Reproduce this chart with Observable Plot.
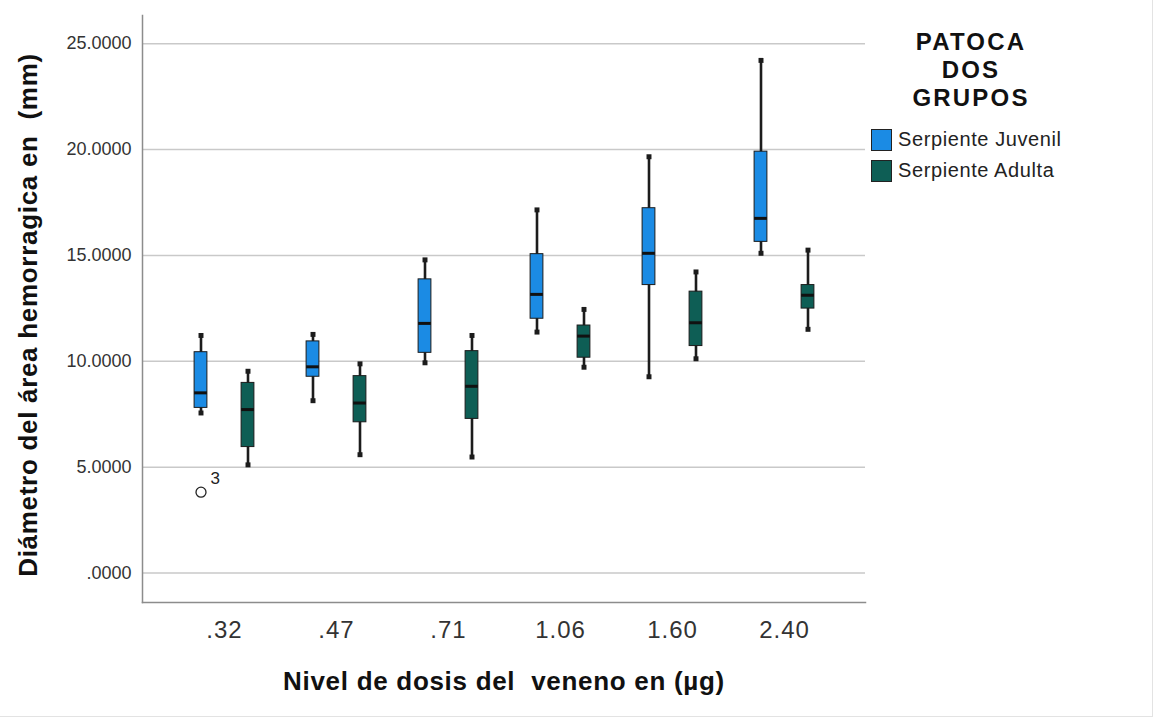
<!DOCTYPE html>
<html>
<head>
<meta charset="utf-8">
<script src="https://cdn.jsdelivr.net/npm/d3@7"></script>
<script src="https://cdn.jsdelivr.net/npm/@observablehq/plot@0.6"></script>
<style>
  html, body { margin: 0; padding: 0; background: #fff; }
  #wrap { position: relative; width: 1158px; height: 722px; overflow: hidden; font-family: "Liberation Sans", Arial, sans-serif; }
  #legend { position: absolute; left: 862px; top: 28px; width: 220px; color: #111; }
  #legend .title { font-weight: bold; font-size: 24px; letter-spacing: 2.2px; line-height: 28px; text-align: center; width: 218px; }
  #legend .item { display: flex; align-items: center; font-size: 20px; letter-spacing: 0.6px; color: #222; height: 31px; margin-left: 9px; }
  #legend .sw { width: 21px; height: 22px; border: 1px solid #222; margin-right: 6px; box-sizing: border-box; }
  #border { position: absolute; left: 0; top: 0; width: 1152px; height: 716px; border-right: 1px solid #e3e3e3; border-bottom: 1px solid #e3e3e3; pointer-events: none; }
</style>
</head>
<body>
<div id="wrap">
  <div id="chart"></div>
  <div id="legend"></div>
  <div id="border"></div>
</div>
<script>
// ---- data ----
const doses = [".32", ".47", ".71", "1.06", "1.60", "2.40"];
const groups = ["Serpiente Juvenil", "Serpiente Adulta"];
const colors = ["#1b8be4", "#0e5e55"];
const legendTitle = ["PATOCA", "DOS", "GRUPOS"];
const yTicks = [0, 5, 10, 15, 20, 25];

// Serpiente Juvenil
const juvMin    = [7.56, 8.14, 9.93, 11.38, 9.27, 15.10];
const juvQ1     = [7.80, 9.27, 10.40, 12.01, 13.60, 15.64];
const juvMedian = [8.51, 9.74, 11.79, 13.16, 15.10, 16.75];
const juvQ3     = [10.43, 10.94, 13.87, 15.06, 17.23, 19.90];
const juvMax    = [11.22, 11.27, 14.79, 17.15, 19.66, 24.21];

// Serpiente Adulta
const aduMin    = [5.11, 5.59, 5.48, 9.72, 10.12, 11.51];
const aduQ1     = [5.95, 7.12, 7.28, 10.17, 10.72, 12.49];
const aduMedian = [7.72, 8.03, 8.82, 11.19, 11.82, 13.12];
const aduQ3     = [8.98, 9.30, 10.48, 11.69, 13.29, 13.60];
const aduMax    = [9.53, 9.88, 11.22, 12.45, 14.22, 15.25];

// outlier
const outliers = [{dose: ".32", group: "Serpiente Juvenil", value: 3.82, label: "3"}];

const yLabel = "Diámetro del área hemorragica en\u00a0 (mm)";
const xLabel = "Nivel de dosis del\u00a0 veneno en (µg)";

// ---- build tables ----
function rows(group, mn, q1, md, q3, mx) {
  return doses.map((d, i) => ({dose: d, group, min: mn[i], q1: q1[i], median: md[i], q3: q3[i], max: mx[i]}));
}
const series = [
  {rows: rows(groups[0], juvMin, juvQ1, juvMedian, juvQ3, juvMax), color: colors[0], dx: -23.5},
  {rows: rows(groups[1], aduMin, aduQ1, aduMedian, aduQ3, aduMax), color: colors[1], dx: 23.5}
];

const W = 1158, H = 722;
const inset = 49.6;
const dark = "#1c1c1c";

const marks = [
  Plot.ruleY(yTicks, {stroke: "#c9c9c9", strokeWidth: 1.5}),
  Plot.frame({anchor: "left", stroke: "#8c8c8c", strokeWidth: 1.5}),
  Plot.frame({anchor: "bottom", stroke: "#8c8c8c", strokeWidth: 1.5}),
  Plot.axisY({ticks: yTicks, tickSize: 0, tickPadding: 11, fontSize: 18, fill: "#333",
    tickFormat: d => d3.format(".4f")(d).replace(/^0\./, "."), label: null}),
  Plot.axisX({tickSize: 0, tickPadding: 18, fontSize: 24, fill: "#333", label: null}),
  Plot.text([yLabel], {frameAnchor: "left", rotate: -90, textAnchor: "middle", dx: -114, dy: 6, fontSize: 26, fontWeight: "bold", fill: "#111"}),
  Plot.text([xLabel], {frameAnchor: "bottom", dy: 87, fontSize: 26, fontWeight: "bold", fill: "#111"})
];

for (const s of series) {
  marks.push(
    Plot.ruleX(s.rows, {x: "dose", y1: "min", y2: "max", dx: s.dx, stroke: dark, strokeWidth: 2.6}),
    Plot.barY(s.rows, {x: "dose", y1: "q1", y2: "q3", dx: s.dx, insetLeft: inset, insetRight: inset, fill: s.color, stroke: dark, strokeWidth: 1}),
    Plot.tickY(s.rows, {x: "dose", y: "median", dx: s.dx, insetLeft: inset, insetRight: inset, stroke: "#111", strokeWidth: 3}),
    Plot.dot(s.rows, {x: "dose", y: "min", dx: s.dx, symbol: "square", r: 2.8, fill: dark, stroke: "none"}),
    Plot.dot(s.rows, {x: "dose", y: "max", dx: s.dx, symbol: "square", r: 2.8, fill: dark, stroke: "none"})
  );
}

marks.push(
  Plot.dot(outliers, {x: "dose", y: "value", dx: -23.5, r: 5, stroke: "#222", strokeWidth: 1.3, fill: "white"}),
  Plot.text(outliers, {x: "dose", y: "value", text: "label", dx: -14, dy: -14, fontSize: 17, fill: "#222", textAnchor: "start"})
);

const chart = Plot.plot({
  width: W,
  height: H,
  marginLeft: 142,
  marginRight: 293,
  marginTop: 15,
  marginBottom: 120,
  style: {fontFamily: "'Liberation Sans', Arial, sans-serif", background: "transparent", overflow: "visible"},
  x: {type: "band", domain: doses, paddingInner: 0, paddingOuter: 0.223, axis: null},
  y: {domain: [-1.39, 26.33], axis: null},
  marks
});
// letter spacing for titles and x tick labels (styling only)
chart.querySelectorAll("text").forEach(el => {
  const txt = el.textContent;
  if (txt === xLabel || txt === yLabel) el.setAttribute("letter-spacing", "0.7");
  else if (doses.includes(txt)) el.setAttribute("letter-spacing", "1");
});
document.getElementById("chart").appendChild(chart);

// ---- legend ----
const lg = document.getElementById("legend");
const t = document.createElement("div");
t.className = "title";
t.innerHTML = legendTitle.map(s => `<div>${s}</div>`).join("");
lg.appendChild(t);
const spacer = document.createElement("div");
spacer.style.height = "12px";
lg.appendChild(spacer);
groups.forEach((g, i) => {
  const it = document.createElement("div");
  it.className = "item";
  it.innerHTML = `<span class="sw" style="background:${colors[i]}"></span><span>${g}</span>`;
  lg.appendChild(it);
});
</script>
</body>
</html>
